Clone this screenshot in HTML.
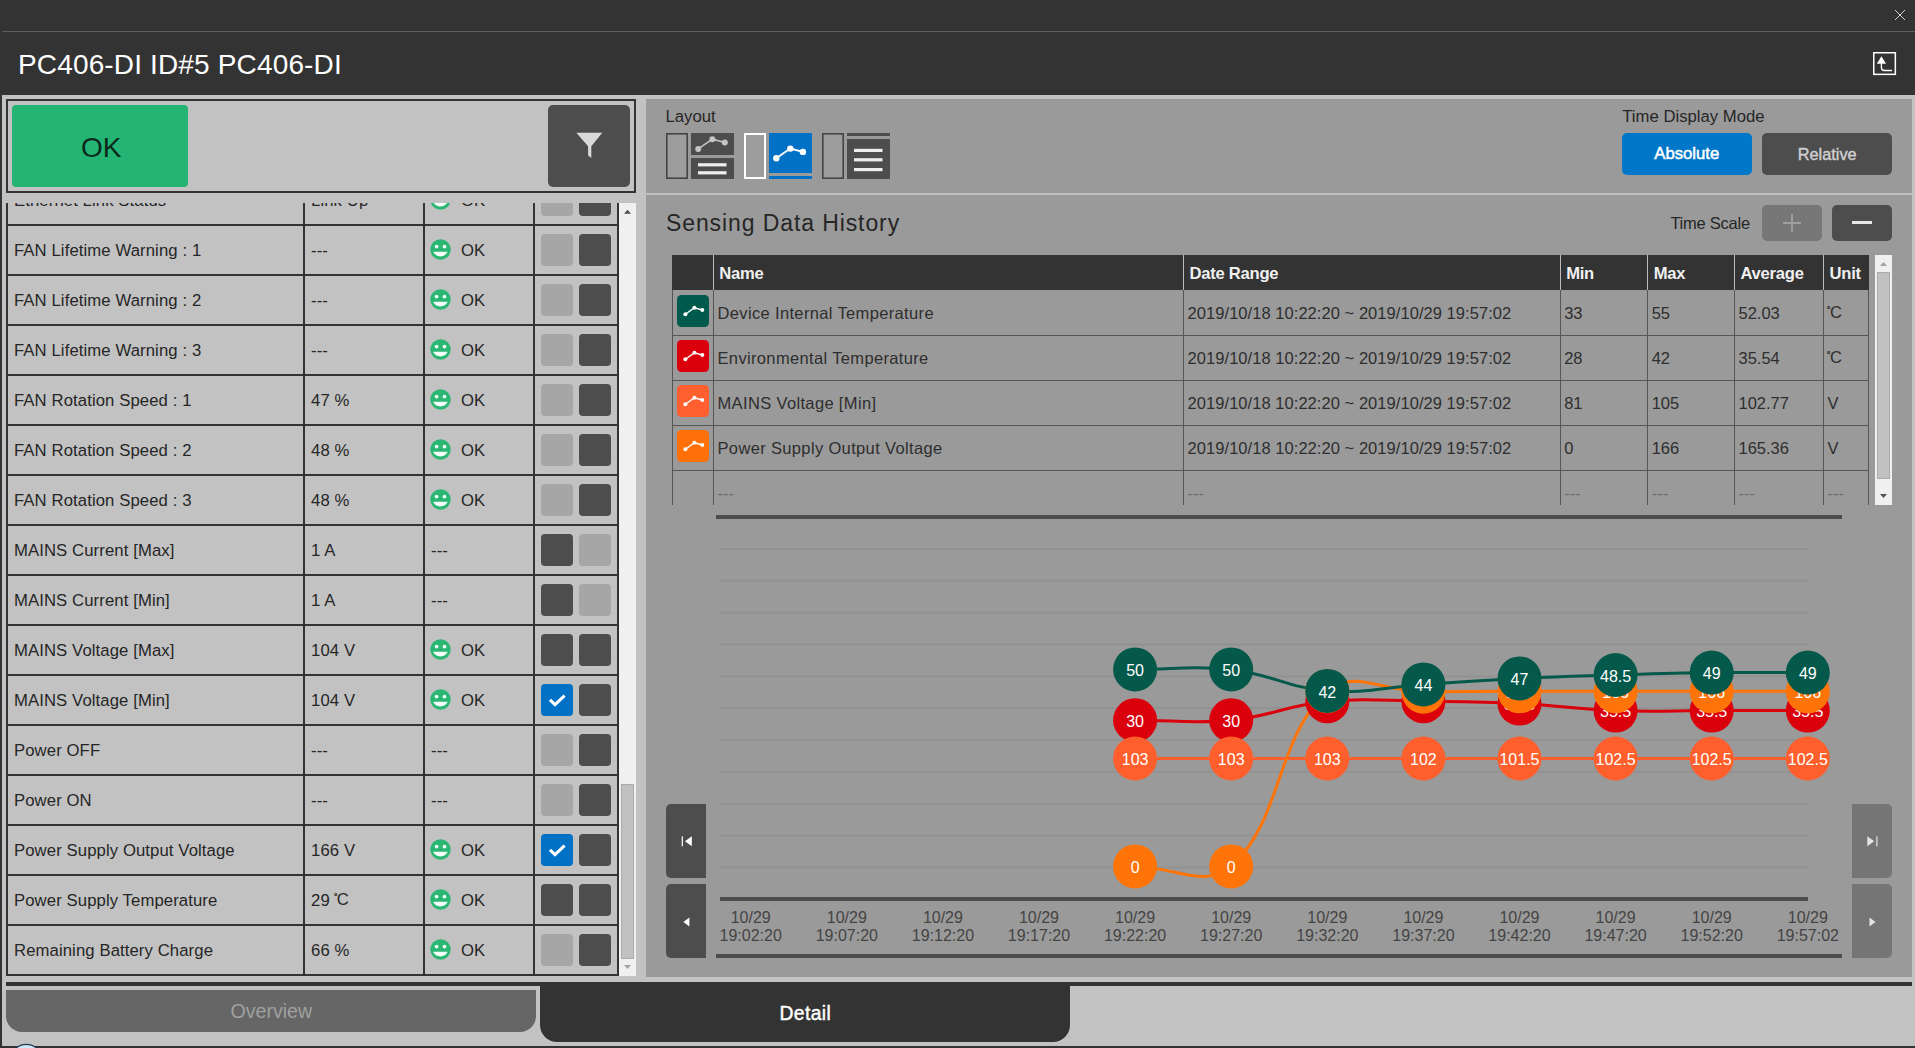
<!DOCTYPE html>
<html>
<head>
<meta charset="utf-8">
<title>PC406-DI</title>
<style>
*{box-sizing:border-box;margin:0;padding:0}
html,body{width:1915px;height:1048px;overflow:hidden}
body{background:#333333;font-family:"Liberation Sans",sans-serif;color:#222;position:relative}
.abs{position:absolute}
.t{position:absolute;white-space:nowrap;line-height:1}
/* ---------- frame ---------- */
#lightbg{left:2px;top:95px;width:1913px;height:951px;background:#c2c2c2}
#topline{left:2px;top:31px;width:1913px;height:1px;background:#5e5e5e}
#title{left:18px;top:50.5px;font-size:28px;color:#fff;letter-spacing:0.15px}
/* ---------- left panel ---------- */
#hdrbox{left:6px;top:99px;width:630px;height:94px;border:2px solid #333}
#okbtn{left:12px;top:105px;width:176px;height:82px;background:#24b574;border-radius:4px}
#oktxt{left:81px;top:134px;font-size:28px;color:#0b2a1b}
#filterbtn{left:548px;top:105px;width:82px;height:82px;background:#4d4d4d;border-radius:5px}
#list{left:6px;top:203px;width:613px;height:773px;overflow:hidden}
#listin{position:absolute;left:0;top:-27px;width:613px}
.row{position:relative;height:50px;border-bottom:2px solid #333;width:613px}
.row .c{position:absolute;top:0;height:48px;border-left:2px solid #333}
.row .c1{left:0;width:297px}
.row .c2{left:297px;width:120px}
.row .c3{left:417px;width:110px}
.row .c4{left:527px;width:86px;border-right:2px solid #333}
.row .tx{position:absolute;top:16px;font-size:16.7px;letter-spacing:0.1px;line-height:18px;white-space:nowrap;color:#262626}
.c1 .tx{left:6px}
.c2 .tx{left:6px}
.c3 .tx{left:36px}
.c3 .tx.d{left:6px}
.sm{position:absolute;left:5.1px;top:13.1px;width:21px;height:21px}
.b{position:absolute;top:8px;width:32px;height:32px;border-radius:4px}
.b1{left:6px}.b2{left:44px}
.bl{background:#a6a6a6}.bd{background:#4d4d4d}.bc{background:#0071c5}
#lscroll{left:619px;top:203px;width:17px;height:773px;background:#f0f0f0}
#lthumb{left:621px;top:784px;width:13px;height:175px;background:#c1c1c1;border:1px solid #ababab}
.dg{font-size:9.5px;position:relative;top:-5.4px;letter-spacing:0;margin-left:-0.8px;margin-right:-0.7px;-webkit-text-stroke:0.35px #2e2e2e}
.cu{position:relative;top:-1px}
/* ---------- right panel ---------- */
#rpanel{left:646px;top:99px;width:1266px;height:878px;background:#9a9a9a}
#rsep{left:646px;top:193px;width:1266px;height:2px;background:#bfbfbf}
/* bottom */
#thick{left:6px;top:982px;width:1906px;height:4px;background:#333}
#ovtab{left:6px;top:990px;width:530px;height:42px;background:#666;border-radius:0 0 16px 16px}
#dttab{left:540px;top:985px;width:530px;height:57px;background:#333;border-radius:0 0 17px 17px}
#bottomline{left:0;top:1046px;width:1915px;height:2px;background:#333}
</style>
</head>
<body>
<div class="abs" id="lightbg"></div>
<div class="abs" id="topline"></div>
<div class="t" id="title">PC406-DI ID#5 PC406-DI</div>
<svg class="abs" style="left:1890px;top:5px" width="20" height="20" viewBox="0 0 20 20"><path d="M5 5L15 15M15 5L5 15" stroke="#d4d4d4" stroke-width="1" fill="none"/></svg>
<svg class="abs" style="left:1870px;top:49px" width="30" height="30" viewBox="0 0 30 30"><rect x="3.75" y="3.75" width="21.6" height="21.6" fill="none" stroke="#fff" stroke-width="1.5"/><path d="M11.4 7.2L6.8 14.8H16z" fill="#fff"/><path d="M11.4 14v4.5a3 3 0 0 0 3 3H22" fill="none" stroke="#fff" stroke-width="1.3"/></svg>

<!-- left panel -->
<div class="abs" id="hdrbox"></div>
<div class="abs" id="okbtn"></div>
<div class="t" id="oktxt">OK</div>
<div class="abs" id="filterbtn"></div>
<svg class="abs" style="left:570px;top:126px" width="40" height="40" viewBox="0 0 40 40"><path d="M6.3 6.8H32.3L21.3 20.2V32L18.1 29.6V20.2z" fill="#d9d9d9"/></svg>

<div class="abs" id="list"><div id="listin">
<div class="row"><div class="c c1"><span class="tx">Ethernet Link Status</span></div><div class="c c2"><span class="tx">Link Up</span></div><div class="c c3"><svg class="sm" viewBox="0 0 21 21"><circle cx="10.5" cy="10.5" r="10.2" fill="#2bb673"/><circle cx="6.6" cy="7.6" r="1.9" fill="#eafff6"/><circle cx="14.5" cy="7.6" r="1.9" fill="#eafff6"/><path d="M3.1 12.8H17.7A8.1 8.1 0 0 1 3.1 12.8z" fill="#f4fffa"/></svg><span class="tx">OK</span></div><div class="c c4"><div class="b b1 bl"></div><div class="b b2 bd"></div></div></div>
<div class="row"><div class="c c1"><span class="tx">FAN Lifetime Warning : 1</span></div><div class="c c2"><span class="tx">---</span></div><div class="c c3"><svg class="sm" viewBox="0 0 21 21"><circle cx="10.5" cy="10.5" r="10.2" fill="#2bb673"/><circle cx="6.6" cy="7.6" r="1.9" fill="#eafff6"/><circle cx="14.5" cy="7.6" r="1.9" fill="#eafff6"/><path d="M3.1 12.8H17.7A8.1 8.1 0 0 1 3.1 12.8z" fill="#f4fffa"/></svg><span class="tx">OK</span></div><div class="c c4"><div class="b b1 bl"></div><div class="b b2 bd"></div></div></div>
<div class="row"><div class="c c1"><span class="tx">FAN Lifetime Warning : 2</span></div><div class="c c2"><span class="tx">---</span></div><div class="c c3"><svg class="sm" viewBox="0 0 21 21"><circle cx="10.5" cy="10.5" r="10.2" fill="#2bb673"/><circle cx="6.6" cy="7.6" r="1.9" fill="#eafff6"/><circle cx="14.5" cy="7.6" r="1.9" fill="#eafff6"/><path d="M3.1 12.8H17.7A8.1 8.1 0 0 1 3.1 12.8z" fill="#f4fffa"/></svg><span class="tx">OK</span></div><div class="c c4"><div class="b b1 bl"></div><div class="b b2 bd"></div></div></div>
<div class="row"><div class="c c1"><span class="tx">FAN Lifetime Warning : 3</span></div><div class="c c2"><span class="tx">---</span></div><div class="c c3"><svg class="sm" viewBox="0 0 21 21"><circle cx="10.5" cy="10.5" r="10.2" fill="#2bb673"/><circle cx="6.6" cy="7.6" r="1.9" fill="#eafff6"/><circle cx="14.5" cy="7.6" r="1.9" fill="#eafff6"/><path d="M3.1 12.8H17.7A8.1 8.1 0 0 1 3.1 12.8z" fill="#f4fffa"/></svg><span class="tx">OK</span></div><div class="c c4"><div class="b b1 bl"></div><div class="b b2 bd"></div></div></div>
<div class="row"><div class="c c1"><span class="tx">FAN Rotation Speed : 1</span></div><div class="c c2"><span class="tx">47 %</span></div><div class="c c3"><svg class="sm" viewBox="0 0 21 21"><circle cx="10.5" cy="10.5" r="10.2" fill="#2bb673"/><circle cx="6.6" cy="7.6" r="1.9" fill="#eafff6"/><circle cx="14.5" cy="7.6" r="1.9" fill="#eafff6"/><path d="M3.1 12.8H17.7A8.1 8.1 0 0 1 3.1 12.8z" fill="#f4fffa"/></svg><span class="tx">OK</span></div><div class="c c4"><div class="b b1 bl"></div><div class="b b2 bd"></div></div></div>
<div class="row"><div class="c c1"><span class="tx">FAN Rotation Speed : 2</span></div><div class="c c2"><span class="tx">48 %</span></div><div class="c c3"><svg class="sm" viewBox="0 0 21 21"><circle cx="10.5" cy="10.5" r="10.2" fill="#2bb673"/><circle cx="6.6" cy="7.6" r="1.9" fill="#eafff6"/><circle cx="14.5" cy="7.6" r="1.9" fill="#eafff6"/><path d="M3.1 12.8H17.7A8.1 8.1 0 0 1 3.1 12.8z" fill="#f4fffa"/></svg><span class="tx">OK</span></div><div class="c c4"><div class="b b1 bl"></div><div class="b b2 bd"></div></div></div>
<div class="row"><div class="c c1"><span class="tx">FAN Rotation Speed : 3</span></div><div class="c c2"><span class="tx">48 %</span></div><div class="c c3"><svg class="sm" viewBox="0 0 21 21"><circle cx="10.5" cy="10.5" r="10.2" fill="#2bb673"/><circle cx="6.6" cy="7.6" r="1.9" fill="#eafff6"/><circle cx="14.5" cy="7.6" r="1.9" fill="#eafff6"/><path d="M3.1 12.8H17.7A8.1 8.1 0 0 1 3.1 12.8z" fill="#f4fffa"/></svg><span class="tx">OK</span></div><div class="c c4"><div class="b b1 bl"></div><div class="b b2 bd"></div></div></div>
<div class="row"><div class="c c1"><span class="tx">MAINS Current [Max]</span></div><div class="c c2"><span class="tx">1 A</span></div><div class="c c3"><span class="tx d">---</span></div><div class="c c4"><div class="b b1 bd"></div><div class="b b2 bl"></div></div></div>
<div class="row"><div class="c c1"><span class="tx">MAINS Current [Min]</span></div><div class="c c2"><span class="tx">1 A</span></div><div class="c c3"><span class="tx d">---</span></div><div class="c c4"><div class="b b1 bd"></div><div class="b b2 bl"></div></div></div>
<div class="row"><div class="c c1"><span class="tx">MAINS Voltage [Max]</span></div><div class="c c2"><span class="tx">104 V</span></div><div class="c c3"><svg class="sm" viewBox="0 0 21 21"><circle cx="10.5" cy="10.5" r="10.2" fill="#2bb673"/><circle cx="6.6" cy="7.6" r="1.9" fill="#eafff6"/><circle cx="14.5" cy="7.6" r="1.9" fill="#eafff6"/><path d="M3.1 12.8H17.7A8.1 8.1 0 0 1 3.1 12.8z" fill="#f4fffa"/></svg><span class="tx">OK</span></div><div class="c c4"><div class="b b1 bd"></div><div class="b b2 bd"></div></div></div>
<div class="row"><div class="c c1"><span class="tx">MAINS Voltage [Min]</span></div><div class="c c2"><span class="tx">104 V</span></div><div class="c c3"><svg class="sm" viewBox="0 0 21 21"><circle cx="10.5" cy="10.5" r="10.2" fill="#2bb673"/><circle cx="6.6" cy="7.6" r="1.9" fill="#eafff6"/><circle cx="14.5" cy="7.6" r="1.9" fill="#eafff6"/><path d="M3.1 12.8H17.7A8.1 8.1 0 0 1 3.1 12.8z" fill="#f4fffa"/></svg><span class="tx">OK</span></div><div class="c c4"><div class="b b1 bc"><svg viewBox="0 0 32 32" width="32" height="32"><path d="M9 15.8l5 4.8L23.6 11.6" fill="none" stroke="#fff" stroke-width="3"/></svg></div><div class="b b2 bd"></div></div></div>
<div class="row"><div class="c c1"><span class="tx">Power OFF</span></div><div class="c c2"><span class="tx">---</span></div><div class="c c3"><span class="tx d">---</span></div><div class="c c4"><div class="b b1 bl"></div><div class="b b2 bd"></div></div></div>
<div class="row"><div class="c c1"><span class="tx">Power ON</span></div><div class="c c2"><span class="tx">---</span></div><div class="c c3"><span class="tx d">---</span></div><div class="c c4"><div class="b b1 bl"></div><div class="b b2 bd"></div></div></div>
<div class="row"><div class="c c1"><span class="tx">Power Supply Output Voltage</span></div><div class="c c2"><span class="tx">166 V</span></div><div class="c c3"><svg class="sm" viewBox="0 0 21 21"><circle cx="10.5" cy="10.5" r="10.2" fill="#2bb673"/><circle cx="6.6" cy="7.6" r="1.9" fill="#eafff6"/><circle cx="14.5" cy="7.6" r="1.9" fill="#eafff6"/><path d="M3.1 12.8H17.7A8.1 8.1 0 0 1 3.1 12.8z" fill="#f4fffa"/></svg><span class="tx">OK</span></div><div class="c c4"><div class="b b1 bc"><svg viewBox="0 0 32 32" width="32" height="32"><path d="M9 15.8l5 4.8L23.6 11.6" fill="none" stroke="#fff" stroke-width="3"/></svg></div><div class="b b2 bd"></div></div></div>
<div class="row"><div class="c c1"><span class="tx">Power Supply Temperature</span></div><div class="c c2"><span class="tx">29 <span class="cu"><span class="dg">°</span>C</span></span></div><div class="c c3"><svg class="sm" viewBox="0 0 21 21"><circle cx="10.5" cy="10.5" r="10.2" fill="#2bb673"/><circle cx="6.6" cy="7.6" r="1.9" fill="#eafff6"/><circle cx="14.5" cy="7.6" r="1.9" fill="#eafff6"/><path d="M3.1 12.8H17.7A8.1 8.1 0 0 1 3.1 12.8z" fill="#f4fffa"/></svg><span class="tx">OK</span></div><div class="c c4"><div class="b b1 bd"></div><div class="b b2 bd"></div></div></div>
<div class="row"><div class="c c1"><span class="tx">Remaining Battery Charge</span></div><div class="c c2"><span class="tx">66 %</span></div><div class="c c3"><svg class="sm" viewBox="0 0 21 21"><circle cx="10.5" cy="10.5" r="10.2" fill="#2bb673"/><circle cx="6.6" cy="7.6" r="1.9" fill="#eafff6"/><circle cx="14.5" cy="7.6" r="1.9" fill="#eafff6"/><path d="M3.1 12.8H17.7A8.1 8.1 0 0 1 3.1 12.8z" fill="#f4fffa"/></svg><span class="tx">OK</span></div><div class="c c4"><div class="b b1 bl"></div><div class="b b2 bd"></div></div></div>
</div></div>
<div class="abs" id="lscroll"></div>
<div class="abs" id="lthumb"></div>
<svg class="abs" style="left:619px;top:203px" width="17" height="17" viewBox="0 0 17 17"><path d="M5 10.7L8.5 6.7L12 10.7z" fill="#505050"/></svg>
<svg class="abs" style="left:619px;top:959px" width="17" height="17" viewBox="0 0 17 17"><path d="M5 6L8.5 10L12 6z" fill="#a3a3a3"/></svg>

<!-- right panel -->
<div class="abs" id="rpanel"></div>
<div class="abs" id="rsep"></div>
<div class="t" style="left:665.5px;top:108.6px;font-size:16.7px;color:#262626">Layout</div>
<svg class="abs" style="left:660px;top:126px" width="240" height="60" viewBox="660 126 240 60">
 <!-- icon 1 -->
 <rect x="666.8" y="133.8" width="20.4" height="44.4" fill="#9d9d9d" stroke="#444" stroke-width="1.6"/>
 <rect x="691" y="133" width="43" height="22" fill="#4d4d4d"/>
 <rect x="691" y="158" width="43" height="21" fill="#4d4d4d"/>
 <path d="M698.2 148.9L712.4 139.2L724.8 142.5" fill="none" stroke="#c4c4c4" stroke-width="1.6"/>
 <circle cx="698.2" cy="148.9" r="3" fill="#c4c4c4"/><circle cx="712.4" cy="139.2" r="3" fill="#c4c4c4"/><circle cx="724.8" cy="142.5" r="3" fill="#c4c4c4"/>
 <rect x="698" y="163.2" width="28.5" height="3.2" fill="#ededed"/><rect x="698" y="171.2" width="28.5" height="3.2" fill="#ededed"/>
 <!-- icon 2 (selected) -->
 <rect x="745" y="134" width="20" height="44" fill="#9d9d9d" stroke="#fff" stroke-width="2"/>
 <rect x="769" y="133" width="43" height="40" fill="#0071c5"/>
 <rect x="769" y="176" width="43" height="3" fill="#0071c5"/>
 <path d="M776.3 158.3L790.3 148.6L802.9 151.9" fill="none" stroke="#fff" stroke-width="1.8"/>
 <circle cx="776.3" cy="158.3" r="3.2" fill="#fff"/><circle cx="790.3" cy="148.6" r="3.2" fill="#fff"/><circle cx="802.9" cy="151.9" r="3.2" fill="#fff"/>
 <!-- icon 3 -->
 <rect x="822.8" y="133.8" width="20.4" height="44.4" fill="#9d9d9d" stroke="#444" stroke-width="1.6"/>
 <rect x="847" y="133" width="43" height="3" fill="#4d4d4d"/>
 <rect x="847" y="139" width="43" height="40" fill="#4d4d4d"/>
 <rect x="854" y="148.8" width="28.5" height="3.2" fill="#ededed"/><rect x="854" y="158.2" width="28.5" height="3.2" fill="#ededed"/><rect x="854" y="168" width="28.5" height="3.2" fill="#ededed"/>
</svg>
<div class="t" style="left:1622.3px;top:108.6px;font-size:16.7px;color:#262626">Time Display Mode</div>
<div class="abs" style="left:1622px;top:133px;width:130px;height:42px;background:#0077c8;border-radius:5px"></div>
<div class="abs" style="left:1762px;top:133px;width:130px;height:42px;background:#4d4d4d;border-radius:5px"></div>
<div class="t" style="left:1654.3px;top:146.2px;font-size:16.7px;color:#fff;-webkit-text-stroke:0.5px #fff">Absolute</div>
<div class="t" style="left:1797.8px;top:146px;font-size:16.3px;color:#d0d0d0;-webkit-text-stroke:0.4px #d0d0d0">Relative</div>
<div class="t" style="left:666px;top:212.2px;font-size:23px;letter-spacing:0.9px;color:#262626">Sensing Data History</div>
<div class="t" style="left:1670.4px;top:214.7px;font-size:16.5px;letter-spacing:-0.25px;color:#262626">Time Scale</div>
<div class="abs" style="left:1762px;top:205px;width:60px;height:36px;background:#777;border-radius:5px"></div>
<div class="abs" style="left:1832px;top:205px;width:60px;height:36px;background:#4d4d4d;border-radius:5px"></div>
<div class="abs" style="left:1783px;top:222px;width:18px;height:2px;background:#9d9d9d"></div>
<div class="abs" style="left:1791px;top:214px;width:2px;height:18px;background:#9d9d9d"></div>
<div class="abs" style="left:1852px;top:221px;width:20px;height:3px;background:#e8e8e8"></div>

<div class="abs" style="left:672px;top:255px;width:1197px;height:35px;background:#333"></div>
<div class="abs" style="left:672px;top:290px;width:1197px;height:215px;overflow:hidden">
<div class="abs" style="left:0;top:0;width:1px;height:215px;background:#555"></div>
<div class="abs" style="left:1196px;top:0;width:1px;height:215px;background:#555"></div>
<div class="abs" style="left:41px;top:0;width:1px;height:215px;background:#555"></div>
<div class="abs" style="left:511px;top:0;width:1px;height:215px;background:#555"></div>
<div class="abs" style="left:888px;top:0;width:1px;height:215px;background:#555"></div>
<div class="abs" style="left:975px;top:0;width:1px;height:215px;background:#555"></div>
<div class="abs" style="left:1062px;top:0;width:1px;height:215px;background:#555"></div>
<div class="abs" style="left:1151px;top:0;width:1px;height:215px;background:#555"></div>
<div class="abs" style="left:0;top:45px;width:1197px;height:1px;background:#555"></div>
<div class="abs" style="left:0;top:90px;width:1197px;height:1px;background:#555"></div>
<div class="abs" style="left:0;top:135px;width:1197px;height:1px;background:#555"></div>
<div class="abs" style="left:0;top:180px;width:1197px;height:1px;background:#555"></div>
</div>
<div class="abs" style="left:713px;top:255px;width:1px;height:35px;background:#bdbdbd"></div>
<div class="abs" style="left:1183px;top:255px;width:1px;height:35px;background:#bdbdbd"></div>
<div class="abs" style="left:1560px;top:255px;width:1px;height:35px;background:#bdbdbd"></div>
<div class="abs" style="left:1647px;top:255px;width:1px;height:35px;background:#bdbdbd"></div>
<div class="abs" style="left:1734px;top:255px;width:1px;height:35px;background:#bdbdbd"></div>
<div class="abs" style="left:1823px;top:255px;width:1px;height:35px;background:#bdbdbd"></div>
<div class="t" style="left:719.3px;top:265.6px;font-size:16.6px;font-weight:bold;letter-spacing:-0.25px;color:#f0f0f0">Name</div>
<div class="t" style="left:1189.5px;top:265.6px;font-size:16.6px;font-weight:bold;letter-spacing:-0.25px;color:#f0f0f0">Date Range</div>
<div class="t" style="left:1566.2px;top:265.6px;font-size:16.6px;font-weight:bold;letter-spacing:-0.25px;color:#f0f0f0">Min</div>
<div class="t" style="left:1653.7px;top:265.6px;font-size:16.6px;font-weight:bold;letter-spacing:-0.25px;color:#f0f0f0">Max</div>
<div class="t" style="left:1740.5px;top:265.6px;font-size:16.6px;font-weight:bold;letter-spacing:-0.25px;color:#f0f0f0">Average</div>
<div class="t" style="left:1829.6px;top:265.6px;font-size:16.6px;font-weight:bold;letter-spacing:-0.25px;color:#f0f0f0">Unit</div>
<svg class="abs" style="left:677px;top:295px" width="32" height="32" viewBox="0 0 32 32"><rect width="32" height="32" rx="4.5" fill="#005a4b"/><path d="M8.4 19.3L17.4 12.8L25.3 15" fill="none" stroke="#fff" stroke-width="1.4"/><circle cx="8.4" cy="19.3" r="2" fill="#fff"/><circle cx="17.4" cy="12.8" r="2" fill="#fff"/><circle cx="25.3" cy="15" r="2" fill="#fff"/></svg>
<div class="t" style="left:717.5px;top:304.9px;font-size:16.5px;letter-spacing:0.35px;color:#2e2e2e">Device Internal Temperature</div>
<div class="t" style="left:1187.6px;top:304.9px;font-size:16.5px;letter-spacing:0.05px;color:#2e2e2e">2019/10/18 10:22:20 ~ 2019/10/29 19:57:02</div>
<div class="t" style="left:1564.2px;top:304.9px;font-size:16.5px;letter-spacing:0px;color:#2e2e2e">33</div>
<div class="t" style="left:1651.7px;top:304.9px;font-size:16.5px;letter-spacing:0px;color:#2e2e2e">55</div>
<div class="t" style="left:1738.5px;top:304.9px;font-size:16.5px;letter-spacing:0px;color:#2e2e2e">52.03</div>
<div class="t" style="left:1827.6px;top:304.9px;font-size:16.5px;letter-spacing:0px;color:#2e2e2e"><span class="cu"><span class="dg">°</span>C</span></div>
<svg class="abs" style="left:677px;top:340px" width="32" height="32" viewBox="0 0 32 32"><rect width="32" height="32" rx="4.5" fill="#dc000c"/><path d="M8.4 19.3L17.4 12.8L25.3 15" fill="none" stroke="#fff" stroke-width="1.4"/><circle cx="8.4" cy="19.3" r="2" fill="#fff"/><circle cx="17.4" cy="12.8" r="2" fill="#fff"/><circle cx="25.3" cy="15" r="2" fill="#fff"/></svg>
<div class="t" style="left:717.5px;top:349.9px;font-size:16.5px;letter-spacing:0.35px;color:#2e2e2e">Environmental Temperature</div>
<div class="t" style="left:1187.6px;top:349.9px;font-size:16.5px;letter-spacing:0.05px;color:#2e2e2e">2019/10/18 10:22:20 ~ 2019/10/29 19:57:02</div>
<div class="t" style="left:1564.2px;top:349.9px;font-size:16.5px;letter-spacing:0px;color:#2e2e2e">28</div>
<div class="t" style="left:1651.7px;top:349.9px;font-size:16.5px;letter-spacing:0px;color:#2e2e2e">42</div>
<div class="t" style="left:1738.5px;top:349.9px;font-size:16.5px;letter-spacing:0px;color:#2e2e2e">35.54</div>
<div class="t" style="left:1827.6px;top:349.9px;font-size:16.5px;letter-spacing:0px;color:#2e2e2e"><span class="cu"><span class="dg">°</span>C</span></div>
<svg class="abs" style="left:677px;top:385px" width="32" height="32" viewBox="0 0 32 32"><rect width="32" height="32" rx="4.5" fill="#ff5f2e"/><path d="M8.4 19.3L17.4 12.8L25.3 15" fill="none" stroke="#fff" stroke-width="1.4"/><circle cx="8.4" cy="19.3" r="2" fill="#fff"/><circle cx="17.4" cy="12.8" r="2" fill="#fff"/><circle cx="25.3" cy="15" r="2" fill="#fff"/></svg>
<div class="t" style="left:717.5px;top:394.9px;font-size:16.5px;letter-spacing:0.35px;color:#2e2e2e">MAINS Voltage [Min]</div>
<div class="t" style="left:1187.6px;top:394.9px;font-size:16.5px;letter-spacing:0.05px;color:#2e2e2e">2019/10/18 10:22:20 ~ 2019/10/29 19:57:02</div>
<div class="t" style="left:1564.2px;top:394.9px;font-size:16.5px;letter-spacing:0px;color:#2e2e2e">81</div>
<div class="t" style="left:1651.7px;top:394.9px;font-size:16.5px;letter-spacing:0px;color:#2e2e2e">105</div>
<div class="t" style="left:1738.5px;top:394.9px;font-size:16.5px;letter-spacing:0px;color:#2e2e2e">102.77</div>
<div class="t" style="left:1827.6px;top:394.9px;font-size:16.5px;letter-spacing:0px;color:#2e2e2e">V</div>
<svg class="abs" style="left:677px;top:430px" width="32" height="32" viewBox="0 0 32 32"><rect width="32" height="32" rx="4.5" fill="#ff7008"/><path d="M8.4 19.3L17.4 12.8L25.3 15" fill="none" stroke="#fff" stroke-width="1.4"/><circle cx="8.4" cy="19.3" r="2" fill="#fff"/><circle cx="17.4" cy="12.8" r="2" fill="#fff"/><circle cx="25.3" cy="15" r="2" fill="#fff"/></svg>
<div class="t" style="left:717.5px;top:439.9px;font-size:16.5px;letter-spacing:0.35px;color:#2e2e2e">Power Supply Output Voltage</div>
<div class="t" style="left:1187.6px;top:439.9px;font-size:16.5px;letter-spacing:0.05px;color:#2e2e2e">2019/10/18 10:22:20 ~ 2019/10/29 19:57:02</div>
<div class="t" style="left:1564.2px;top:439.9px;font-size:16.5px;letter-spacing:0px;color:#2e2e2e">0</div>
<div class="t" style="left:1651.7px;top:439.9px;font-size:16.5px;letter-spacing:0px;color:#2e2e2e">166</div>
<div class="t" style="left:1738.5px;top:439.9px;font-size:16.5px;letter-spacing:0px;color:#2e2e2e">165.36</div>
<div class="t" style="left:1827.6px;top:439.9px;font-size:16.5px;letter-spacing:0px;color:#2e2e2e">V</div>
<div class="t" style="left:717.5px;top:485px;font-size:16.5px;color:#6e6e6e">---</div>
<div class="t" style="left:1187.6px;top:485px;font-size:16.5px;color:#6e6e6e">---</div>
<div class="t" style="left:1564.2px;top:485px;font-size:16.5px;color:#6e6e6e">---</div>
<div class="t" style="left:1651.7px;top:485px;font-size:16.5px;color:#6e6e6e">---</div>
<div class="t" style="left:1738.5px;top:485px;font-size:16.5px;color:#6e6e6e">---</div>
<div class="t" style="left:1827.6px;top:485px;font-size:16.5px;color:#6e6e6e">---</div>
<div class="abs" style="left:1875px;top:255px;width:17px;height:250px;background:#f0f0f0"></div>
<div class="abs" style="left:1877px;top:272px;width:13px;height:207px;background:#c1c1c1;border:1px solid #ababab"></div>
<svg class="abs" style="left:1875px;top:255px" width="17" height="17" viewBox="0 0 17 17"><path d="M5 11L8.5 7L12 11z" fill="#a3a3a3"/></svg>
<svg class="abs" style="left:1875px;top:488px" width="17" height="17" viewBox="0 0 17 17"><path d="M5 6L8.5 10L12 6z" fill="#505050"/></svg>

<div class="abs" style="left:666px;top:804px;width:40px;height:74px;background:#4d4d4d;border-radius:5px 0 0 5px"></div>
<div class="abs" style="left:666px;top:884px;width:40px;height:74px;background:#4d4d4d;border-radius:5px 0 0 5px"></div>
<div class="abs" style="left:1852px;top:804px;width:40px;height:74px;background:#757575;border-radius:0 5px 5px 0"></div>
<div class="abs" style="left:1852px;top:884px;width:40px;height:74px;background:#757575;border-radius:0 5px 5px 0"></div>
<svg class="abs" style="left:646px;top:505px" width="1266" height="472" viewBox="646 505 1266 472">
<rect x="681.7" y="836.3" width="1.2" height="10" fill="#fff"/><path d="M691.8 836.3V846.3L685 841.3z" fill="#fff"/>
<path d="M689.4 917.6V926.6L683.4 922.1z" fill="#fff"/>
<rect x="1876.3" y="836.3" width="1.2" height="10" fill="#e4e4e4"/><path d="M1867.3 836.3V846.3L1874.2 841.3z" fill="#e4e4e4"/>
<path d="M1869.5 917.6V926.6L1875.5 922.1z" fill="#e4e4e4"/>
<rect x="716" y="515" width="1126" height="4" fill="#4d4d4d"/>
<rect x="716" y="954" width="1126" height="4" fill="#4d4d4d"/>
<rect x="720" y="897" width="1088" height="4" fill="#4d4d4d"/>
<rect x="720" y="866.45" width="1088" height="2" fill="#000" fill-opacity="0.05"/>
<rect x="720" y="834.60" width="1088" height="2" fill="#000" fill-opacity="0.05"/>
<rect x="720" y="802.75" width="1088" height="2" fill="#000" fill-opacity="0.05"/>
<rect x="720" y="770.90" width="1088" height="2" fill="#000" fill-opacity="0.05"/>
<rect x="720" y="739.05" width="1088" height="2" fill="#000" fill-opacity="0.05"/>
<rect x="720" y="707.20" width="1088" height="2" fill="#000" fill-opacity="0.05"/>
<rect x="720" y="675.35" width="1088" height="2" fill="#000" fill-opacity="0.05"/>
<rect x="720" y="643.50" width="1088" height="2" fill="#000" fill-opacity="0.05"/>
<rect x="720" y="611.65" width="1088" height="2" fill="#000" fill-opacity="0.05"/>
<rect x="720" y="579.80" width="1088" height="2" fill="#000" fill-opacity="0.05"/>
<rect x="720" y="547.95" width="1088" height="2" fill="#000" fill-opacity="0.05"/>
<path d="M1135.1 720.2C1173.5 720.2 1193.1 723.9 1231.2 720.2C1270.0 716.4 1288.5 705.1 1327.3 701.3C1365.4 697.6 1385.0 700.8 1423.4 701.3C1461.8 701.8 1481.1 701.7 1519.5 703.6C1558.0 705.5 1577.1 709.2 1615.6 710.6C1654.0 712.0 1673.3 710.6 1711.7 710.6C1750.1 710.6 1769.4 710.6 1807.8 710.6" fill="none" stroke="#da000c" stroke-width="3"/>
<path d="M1135.1 758.5C1173.5 758.5 1192.8 758.5 1231.2 758.5C1269.6 758.5 1288.9 758.5 1327.3 758.5C1365.7 758.5 1385.0 758.5 1423.4 758.5C1461.8 758.5 1481.1 758.5 1519.5 758.5C1557.9 758.5 1577.2 758.5 1615.6 758.5C1654.0 758.5 1673.3 758.5 1711.7 758.5C1750.1 758.5 1769.4 758.5 1807.8 758.5" fill="none" stroke="#ff5f2c" stroke-width="3"/>
<path d="M1135.1 866.4C1173.5 866.4 1206.2 889.2 1231.2 866.4C1283.1 819.1 1275.4 738.4 1327.3 691.2C1352.3 668.5 1385.0 691.7 1423.4 691.7C1461.8 691.7 1481.1 691.4 1519.5 691.3C1557.9 691.2 1577.2 691.3 1615.6 691.3C1654.0 691.3 1673.3 691.3 1711.7 691.3C1750.1 691.3 1769.4 691.3 1807.8 691.3" fill="none" stroke="#ff7409" stroke-width="3"/>
<path d="M1135.1 669.4C1173.5 669.4 1193.2 665.2 1231.2 669.4C1270.1 673.8 1288.4 687.9 1327.3 690.9C1365.3 693.9 1385.0 686.9 1423.4 684.4C1461.8 681.9 1481.0 680.3 1519.5 678.4C1557.9 676.5 1577.2 676.2 1615.6 675.0C1654.0 673.8 1673.3 673.1 1711.7 672.6C1750.1 672.1 1769.4 672.6 1807.8 672.6" fill="none" stroke="#05594b" stroke-width="3"/>
<circle cx="1135.1" cy="720.2" r="22" fill="#da000c"/>
<text x="1135.1" y="726.8" text-anchor="middle" font-size="16" fill="#fff">30</text>
<circle cx="1231.2" cy="720.2" r="22" fill="#da000c"/>
<text x="1231.2" y="726.8" text-anchor="middle" font-size="16" fill="#fff">30</text>
<circle cx="1327.3" cy="701.3" r="22" fill="#da000c"/>
<text x="1327.3" y="707.9" text-anchor="middle" font-size="16" fill="#fff">41</text>
<circle cx="1423.4" cy="701.3" r="22" fill="#da000c"/>
<text x="1423.4" y="707.9" text-anchor="middle" font-size="16" fill="#fff">41</text>
<circle cx="1519.5" cy="703.6" r="22" fill="#da000c"/>
<text x="1519.5" y="710.2" text-anchor="middle" font-size="16" fill="#fff">39.5</text>
<circle cx="1615.6" cy="710.6" r="22" fill="#da000c"/>
<text x="1615.6" y="717.2" text-anchor="middle" font-size="16" fill="#fff">35.5</text>
<circle cx="1711.7" cy="710.6" r="22" fill="#da000c"/>
<text x="1711.7" y="717.2" text-anchor="middle" font-size="16" fill="#fff">35.5</text>
<circle cx="1807.8" cy="710.6" r="22" fill="#da000c"/>
<text x="1807.8" y="717.2" text-anchor="middle" font-size="16" fill="#fff">35.5</text>
<circle cx="1135.1" cy="758.5" r="22" fill="#ff5f2c"/>
<text x="1135.1" y="765.1" text-anchor="middle" font-size="16" fill="#fff">103</text>
<circle cx="1231.2" cy="758.5" r="22" fill="#ff5f2c"/>
<text x="1231.2" y="765.1" text-anchor="middle" font-size="16" fill="#fff">103</text>
<circle cx="1327.3" cy="758.5" r="22" fill="#ff5f2c"/>
<text x="1327.3" y="765.1" text-anchor="middle" font-size="16" fill="#fff">103</text>
<circle cx="1423.4" cy="758.5" r="22" fill="#ff5f2c"/>
<text x="1423.4" y="765.1" text-anchor="middle" font-size="16" fill="#fff">102</text>
<circle cx="1519.5" cy="758.5" r="22" fill="#ff5f2c"/>
<text x="1519.5" y="765.1" text-anchor="middle" font-size="16" fill="#fff">101.5</text>
<circle cx="1615.6" cy="758.5" r="22" fill="#ff5f2c"/>
<text x="1615.6" y="765.1" text-anchor="middle" font-size="16" fill="#fff">102.5</text>
<circle cx="1711.7" cy="758.5" r="22" fill="#ff5f2c"/>
<text x="1711.7" y="765.1" text-anchor="middle" font-size="16" fill="#fff">102.5</text>
<circle cx="1807.8" cy="758.5" r="22" fill="#ff5f2c"/>
<text x="1807.8" y="765.1" text-anchor="middle" font-size="16" fill="#fff">102.5</text>
<circle cx="1135.1" cy="866.4" r="22" fill="#ff7409"/>
<text x="1135.1" y="873.0" text-anchor="middle" font-size="16" fill="#fff">0</text>
<circle cx="1231.2" cy="866.4" r="22" fill="#ff7409"/>
<text x="1231.2" y="873.0" text-anchor="middle" font-size="16" fill="#fff">0</text>
<circle cx="1327.3" cy="691.2" r="22" fill="#ff7409"/>
<text x="1327.3" y="697.8" text-anchor="middle" font-size="16" fill="#fff">166</text>
<circle cx="1423.4" cy="691.7" r="22" fill="#ff7409"/>
<text x="1423.4" y="698.3" text-anchor="middle" font-size="16" fill="#fff">166</text>
<circle cx="1519.5" cy="691.3" r="22" fill="#ff7409"/>
<text x="1519.5" y="697.9" text-anchor="middle" font-size="16" fill="#fff">166</text>
<circle cx="1615.6" cy="691.3" r="22" fill="#ff7409"/>
<text x="1615.6" y="697.9" text-anchor="middle" font-size="16" fill="#fff">166</text>
<circle cx="1711.7" cy="691.3" r="22" fill="#ff7409"/>
<text x="1711.7" y="697.9" text-anchor="middle" font-size="16" fill="#fff">166</text>
<circle cx="1807.8" cy="691.3" r="22" fill="#ff7409"/>
<text x="1807.8" y="697.9" text-anchor="middle" font-size="16" fill="#fff">166</text>
<circle cx="1135.1" cy="669.4" r="22" fill="#05594b"/>
<text x="1135.1" y="676.0" text-anchor="middle" font-size="16" fill="#fff">50</text>
<circle cx="1231.2" cy="669.4" r="22" fill="#05594b"/>
<text x="1231.2" y="676.0" text-anchor="middle" font-size="16" fill="#fff">50</text>
<circle cx="1327.3" cy="690.9" r="22" fill="#05594b"/>
<text x="1327.3" y="697.5" text-anchor="middle" font-size="16" fill="#fff">42</text>
<circle cx="1423.4" cy="684.4" r="22" fill="#05594b"/>
<text x="1423.4" y="691.0" text-anchor="middle" font-size="16" fill="#fff">44</text>
<circle cx="1519.5" cy="678.4" r="22" fill="#05594b"/>
<text x="1519.5" y="685.0" text-anchor="middle" font-size="16" fill="#fff">47</text>
<circle cx="1615.6" cy="675.0" r="22" fill="#05594b"/>
<text x="1615.6" y="681.6" text-anchor="middle" font-size="16" fill="#fff">48.5</text>
<circle cx="1711.7" cy="672.6" r="22" fill="#05594b"/>
<text x="1711.7" y="679.2" text-anchor="middle" font-size="16" fill="#fff">49</text>
<circle cx="1807.8" cy="672.6" r="22" fill="#05594b"/>
<text x="1807.8" y="679.2" text-anchor="middle" font-size="16" fill="#fff">49</text>
<text x="750.7" y="922.6" text-anchor="middle" font-size="16" fill="#444">10/29</text>
<text x="750.7" y="941.3" text-anchor="middle" font-size="16" fill="#444">19:02:20</text>
<text x="846.8" y="922.6" text-anchor="middle" font-size="16" fill="#444">10/29</text>
<text x="846.8" y="941.3" text-anchor="middle" font-size="16" fill="#444">19:07:20</text>
<text x="942.9" y="922.6" text-anchor="middle" font-size="16" fill="#444">10/29</text>
<text x="942.9" y="941.3" text-anchor="middle" font-size="16" fill="#444">19:12:20</text>
<text x="1039.0" y="922.6" text-anchor="middle" font-size="16" fill="#444">10/29</text>
<text x="1039.0" y="941.3" text-anchor="middle" font-size="16" fill="#444">19:17:20</text>
<text x="1135.1" y="922.6" text-anchor="middle" font-size="16" fill="#444">10/29</text>
<text x="1135.1" y="941.3" text-anchor="middle" font-size="16" fill="#444">19:22:20</text>
<text x="1231.2" y="922.6" text-anchor="middle" font-size="16" fill="#444">10/29</text>
<text x="1231.2" y="941.3" text-anchor="middle" font-size="16" fill="#444">19:27:20</text>
<text x="1327.3" y="922.6" text-anchor="middle" font-size="16" fill="#444">10/29</text>
<text x="1327.3" y="941.3" text-anchor="middle" font-size="16" fill="#444">19:32:20</text>
<text x="1423.4" y="922.6" text-anchor="middle" font-size="16" fill="#444">10/29</text>
<text x="1423.4" y="941.3" text-anchor="middle" font-size="16" fill="#444">19:37:20</text>
<text x="1519.5" y="922.6" text-anchor="middle" font-size="16" fill="#444">10/29</text>
<text x="1519.5" y="941.3" text-anchor="middle" font-size="16" fill="#444">19:42:20</text>
<text x="1615.6" y="922.6" text-anchor="middle" font-size="16" fill="#444">10/29</text>
<text x="1615.6" y="941.3" text-anchor="middle" font-size="16" fill="#444">19:47:20</text>
<text x="1711.7" y="922.6" text-anchor="middle" font-size="16" fill="#444">10/29</text>
<text x="1711.7" y="941.3" text-anchor="middle" font-size="16" fill="#444">19:52:20</text>
<text x="1807.8" y="922.6" text-anchor="middle" font-size="16" fill="#444">10/29</text>
<text x="1807.8" y="941.3" text-anchor="middle" font-size="16" fill="#444">19:57:02</text>
</svg>

<!-- bottom -->
<div class="abs" id="thick"></div>
<div class="abs" id="ovtab"></div>
<div class="abs" id="dttab"></div>
<div class="t" style="left:230.5px;top:1001.8px;font-size:19.6px;color:#a0a0a0">Overview</div>
<div class="t" style="left:779.5px;top:1003.6px;font-size:19.3px;letter-spacing:0.4px;color:#fff;-webkit-text-stroke:0.45px #fff">Detail</div>
<svg class="abs" style="left:10px;top:1040px;z-index:5" width="34" height="8" viewBox="10 1040 34 8"><ellipse cx="26.3" cy="1051.6" rx="11.4" ry="7.2" fill="#cfe8fb" stroke="#1f3a52" stroke-width="1.3"/></svg>

<div class="abs" id="bottomline"></div>
</body>
</html>
